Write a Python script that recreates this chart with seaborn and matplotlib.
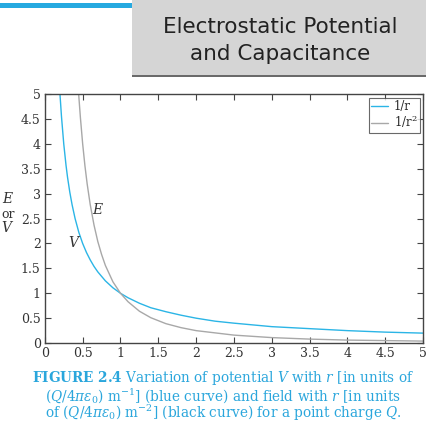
import numpy as np
import pandas as pd
import seaborn as sns
import matplotlib
matplotlib.use("Agg")
import matplotlib.pyplot as plt
from matplotlib.patches import Rectangle

sns.set_style("ticks")
plt.rcParams["font.family"] = ["DejaVu Serif"]
plt.rcParams["mathtext.fontset"] = "dejavuserif"

# values
r_v = [0.2, 0.22, 0.25, 0.28, 0.3, 0.33, 0.36, 0.4, 0.45, 0.5, 0.55, 0.6, 0.65, 0.7,
       0.8, 0.9, 1.0, 1.1, 1.25, 1.4, 1.6, 1.8, 2.0, 2.25, 2.5, 3.0, 3.5, 4.0, 4.5, 5.0]
v_vals = [5.0, 4.55, 4.0, 3.57, 3.33, 3.03, 2.78, 2.5, 2.22, 2.0, 1.82, 1.67, 1.54, 1.43,
          1.25, 1.11, 1.0, 0.91, 0.8, 0.71, 0.63, 0.56, 0.5, 0.44, 0.4, 0.33, 0.29, 0.25, 0.22, 0.2]

r_e = [0.447, 0.47, 0.5, 0.53, 0.56, 0.6, 0.65, 0.7, 0.75, 0.8, 0.9, 1.0, 1.1, 1.25,
       1.4, 1.6, 1.8, 2.0, 2.5, 3.0, 3.5, 4.0, 4.5, 5.0]
e_vals = [5.0, 4.53, 4.0, 3.56, 3.19, 2.78, 2.37, 2.04, 1.78, 1.56, 1.23, 1.0, 0.83, 0.64,
          0.51, 0.39, 0.31, 0.25, 0.16, 0.11, 0.08, 0.06, 0.05, 0.04]

x_ticks = [0, 0.5, 1, 1.5, 2, 2.5, 3, 3.5, 4, 4.5, 5]
y_ticks = [0, 0.5, 1, 1.5, 2, 2.5, 3, 3.5, 4, 4.5, 5]
tick_labels = ["0", "0.5", "1", "1.5", "2", "2.5", "3", "3.5", "4", "4.5", "5"]

blue = "#2bb5e6"
grey = "#a8a8a8"
caption_blue = "#2aa6dc"

df_v = pd.DataFrame({"r": r_v, "val": v_vals})
df_e = pd.DataFrame({"r": r_e, "val": e_vals})

fig = plt.figure(figsize=(4.27, 4.22), dpi=100)
ax = fig.add_axes([0.105, 0.187, 0.886, 0.59])

sns.lineplot(data=df_v, x="r", y="val", ax=ax, color=blue, lw=1.0, label="1/r")
sns.lineplot(data=df_e, x="r", y="val", ax=ax, color=grey, lw=1.0, label="1/r$^2$")

ax.set_xlim(0, 5)
ax.set_ylim(0, 5)
ax.set_xticks(x_ticks)
ax.set_xticklabels(tick_labels)
ax.set_yticks(y_ticks)
ax.set_yticklabels(tick_labels)
ax.set_xlabel("")
ax.set_ylabel("")
ax.tick_params(direction="in", top=True, right=True, length=4, width=0.8,
               labelsize=9, colors="#444444", labelcolor="#333333", pad=3)
for s in ax.spines.values():
    s.set_color("#444444")
    s.set_linewidth(1.0)

leg = ax.legend(loc="upper right", fontsize=8.5, frameon=True, fancybox=False,
                handlelength=1.4, handletextpad=0.5, borderpad=0.2,
                labelspacing=0.05, borderaxespad=0.3)
leg.get_frame().set_edgecolor("#444444")
leg.get_frame().set_linewidth(0.8)

ax.text(0.70, 2.69, "$E$", fontsize=10, color="#333333", ha="center", va="center")
ax.text(0.39, 2.03, "$V$", fontsize=10, color="#333333", ha="center", va="center")

# header
fig.patches.append(Rectangle((0, 1 - 8 / 422), 133 / 427, 5 / 422, transform=fig.transFigure,
                             facecolor="#26a9e0", edgecolor="none"))
fig.patches.append(Rectangle((132 / 427, 1 - 77 / 422), 1, 3 / 422, transform=fig.transFigure,
                             facecolor="#6a6a6a", edgecolor="none"))
fig.patches.append(Rectangle((132 / 427, 1 - 75 / 422), 1, 75 / 422, transform=fig.transFigure,
                             facecolor="#d5d5d5", edgecolor="none"))
fig.text(280 / 427, 1 - 27 / 422, "Electrostatic Potential", fontsize=15.5,
         family="DejaVu Sans", color="#222222", ha="center", va="center")
fig.text(280 / 427, 1 - 54 / 422, "and Capacitance", fontsize=15.5,
         family="DejaVu Sans", color="#222222", ha="center", va="center")

# y label at the left edge
fig.text(8 / 427, 1 - 199 / 422, "$E$", fontsize=10, color="#333333", ha="center", va="center")
fig.text(8 / 427, 1 - 214 / 422, "or", fontsize=9, color="#333333", ha="center", va="center")
fig.text(8 / 427, 1 - 228 / 422, "$V$", fontsize=10, color="#333333", ha="center", va="center")

# caption
fig.text(223 / 427, 1 - 378 / 422,
         r"$\mathbf{FIGURE\ 2.4}$ Variation of potential $V$ with $r$ [in units of",
         fontsize=9.8, color=caption_blue, ha="center", va="center")
fig.text(223 / 427, 1 - 396 / 422,
         r"$(Q/4\pi\varepsilon_0)$ m$^{-1}$] (blue curve) and field with $r$ [in units",
         fontsize=9.8, color=caption_blue, ha="center", va="center")
fig.text(223 / 427, 1 - 413 / 422,
         r"of $(Q/4\pi\varepsilon_0)$ m$^{-2}$] (black curve) for a point charge $Q$.",
         fontsize=9.8, color=caption_blue, ha="center", va="center")

fig.savefig("out.png", dpi=100)
